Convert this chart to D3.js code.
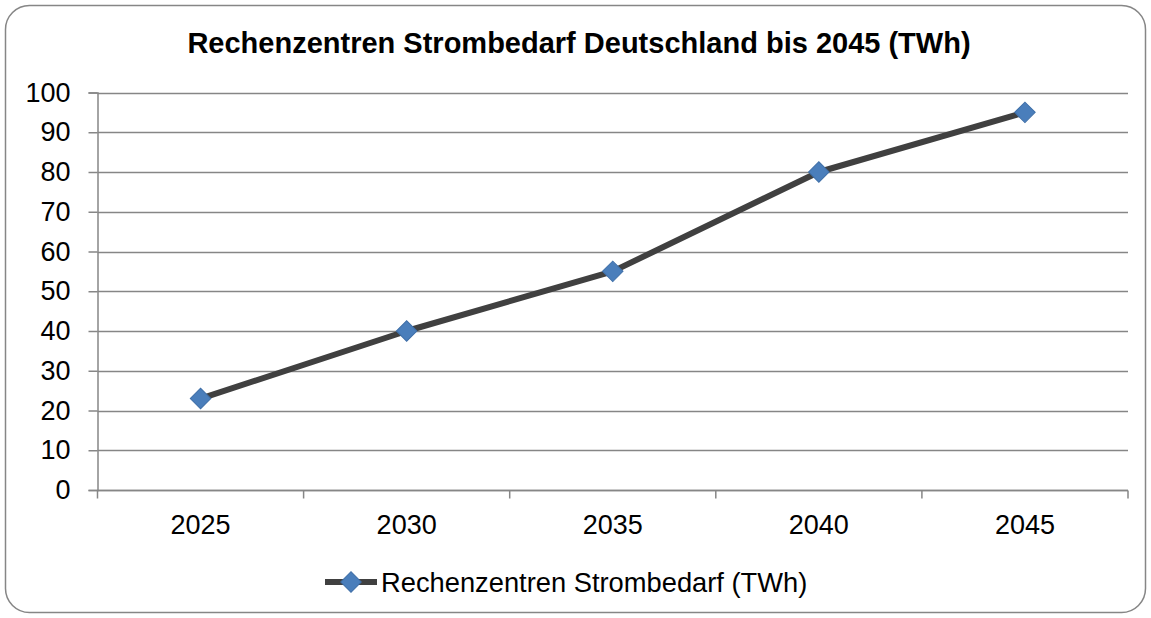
<!DOCTYPE html>
<html>
<head>
<meta charset="utf-8">
<script src="https://cdn.jsdelivr.net/npm/d3@7"></script>
<style>
  html, body { margin: 0; padding: 0; background: #fff; }
  svg text { font-family: "Liberation Sans", Arial, sans-serif; fill: #000; }
</style>
</head>
<body>
<div id="chart"></div>
<script>
// Data
const years = ["2025", "2030", "2035", "2040", "2045"];
const demand = [23, 40, 55, 80, 95];
const yTicks = [0, 10, 20, 30, 40, 50, 60, 70, 80, 90, 100];
const title = "Rechenzentren Strombedarf Deutschland bis 2045 (TWh)";
const seriesName = "Rechenzentren Strombedarf (TWh)";

const width = 1151;
const height = 618;
const margin = { top: 92.5, right: 23, bottom: 128, left: 97.5 };

const svg = d3
  .select("#chart")
  .append("svg")
  .attr("width", width)
  .attr("height", height);

// Outer frame with rounded corners
svg
  .append("rect")
  .attr("x", 5.5)
  .attr("y", 5.5)
  .attr("width", width - 11)
  .attr("height", height - 11)
  .attr("rx", 24)
  .attr("fill", "#fff")
  .attr("stroke", "#868686")
  .attr("stroke-width", 1.5);

// Title
svg
  .append("text")
  .attr("x", 579)
  .attr("y", 53)
  .attr("text-anchor", "middle")
  .style("font-size", "29px")
  .style("font-weight", "bold")
  .text(title);

// Scales
const x = d3
  .scaleBand()
  .domain(years)
  .range([margin.left, width - margin.right]);

const y = d3
  .scaleLinear()
  .domain([0, 100])
  .range([height - margin.bottom, margin.top]);

// Horizontal gridlines
svg
  .append("g")
  .selectAll("line")
  .data(yTicks)
  .join("line")
  .attr("x1", margin.left)
  .attr("x2", width - margin.right)
  .attr("y1", (d) => Math.round(y(d)) + 0.5)
  .attr("y2", (d) => Math.round(y(d)) + 0.5)
  .attr("stroke", "#868686")
  .attr("stroke-width", 1.5);

// Y axis
const yAxis = svg
  .append("g")
  .attr("transform", `translate(${margin.left},0)`)
  .call(d3.axisLeft(y).tickValues(yTicks).tickSize(9).tickPadding(18));
yAxis.select(".domain").attr("stroke", "#868686").attr("stroke-width", 1.5);
yAxis.selectAll(".tick line").attr("stroke", "#868686").attr("stroke-width", 1.5);
yAxis
  .selectAll(".tick text")
  .style("font-size", "27px")
  .attr("font-family", null);

// X axis: ticks at category boundaries, labels in band centres
const xAxisG = svg
  .append("g")
  .attr("transform", `translate(0,${Math.round(y(0)) + 0.5})`);
xAxisG
  .append("line")
  .attr("x1", margin.left)
  .attr("x2", width - margin.right)
  .attr("stroke", "#868686")
  .attr("stroke-width", 1.5);
const edges = years.map((d) => x(d)).concat([x(years[years.length - 1]) + x.bandwidth()]);
xAxisG
  .selectAll(".edge")
  .data(edges)
  .join("line")
  .attr("class", "edge")
  .attr("x1", (d) => d)
  .attr("x2", (d) => d)
  .attr("y1", 0)
  .attr("y2", 8)
  .attr("stroke", "#868686")
  .attr("stroke-width", 1.5);
xAxisG
  .selectAll("text")
  .data(years)
  .join("text")
  .attr("x", (d) => x(d) + x.bandwidth() / 2)
  .attr("y", 43)
  .attr("text-anchor", "middle")
  .style("font-size", "27px")
  .text((d) => d);

// Series line
const points = years.map((d, i) => ({ year: d, value: demand[i] }));
const line = d3
  .line()
  .x((d) => x(d.year) + x.bandwidth() / 2)
  .y((d) => y(d.value));

svg
  .append("path")
  .datum(points)
  .attr("fill", "none")
  .attr("stroke", "#404040")
  .attr("stroke-width", 6)
  .attr("stroke-linejoin", "round")
  .attr("d", line);

// Diamond markers
const diamond = d3.symbol().type(d3.symbolSquare).size(210);
svg
  .append("g")
  .selectAll("path")
  .data(points)
  .join("path")
  .attr("d", diamond)
  .attr(
    "transform",
    (d) => `translate(${x(d.year) + x.bandwidth() / 2},${y(d.value)}) rotate(45)`
  )
  .attr("fill", "#4a7ebb")
  .attr("stroke", "#3f6fa8")
  .attr("stroke-width", 1);

// Legend
const legend = svg.append("g").attr("transform", "translate(325,582)");
legend
  .append("line")
  .attr("x1", 0)
  .attr("x2", 52)
  .attr("stroke", "#404040")
  .attr("stroke-width", 6);
legend
  .append("path")
  .attr("d", diamond)
  .attr("transform", "translate(26,0) rotate(45)")
  .attr("fill", "#4a7ebb")
  .attr("stroke", "#3f6fa8")
  .attr("stroke-width", 1);
legend
  .append("text")
  .attr("x", 56)
  .attr("y", 10)
  .style("font-size", "27.3px")
  .text(seriesName);
</script>
</body>
</html>
